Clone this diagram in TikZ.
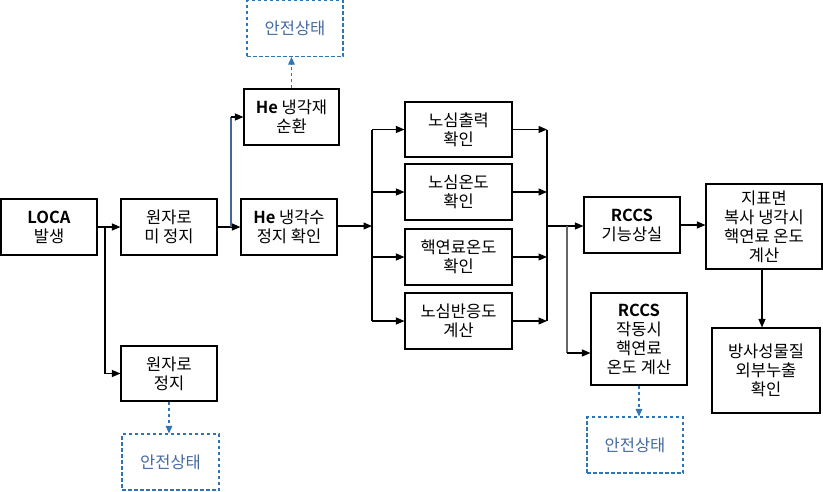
\documentclass[tikz,border=0pt]{standalone}
\usepackage{fontspec}
\setmainfont{Noto Sans CJK KR}[BoldFont={Noto Sans CJK KR Bold}]
\usetikzlibrary{arrows.meta,calc}
\definecolor{dashblue}{RGB}{46,117,182}
\definecolor{safetext}{RGB}{68,106,160}
\definecolor{branchblue}{RGB}{70,100,150}
\begin{document}
\begin{tikzpicture}[x=1pt,y=-1pt,
  box/.style={draw=black,line width=1.1pt,fill=white,align=center,inner sep=0pt,
    font=\fontsize{16.5}{19}\selectfont,text=black},
  safebox/.style={draw=dashblue,dashed,dash pattern=on 3.5pt off 2.5pt,line width=1.1pt,align=center,inner sep=0pt,
    font=\fontsize{16.5}{19}\selectfont,text=safetext,minimum width=96pt,minimum height=56pt},
  arr/.style={draw=black,line width=1.1pt,-{Triangle[length=8.5pt,width=7pt]}},
  ln/.style={draw=black,line width=1.1pt},
  darr/.style={draw=dashblue,line width=1.1pt,dash pattern=on 3.5pt off 2.5pt,-{Triangle[length=7.5pt,width=6.5pt]}}
]
\useasboundingbox (0,0) rectangle (823,491);

\node[box,minimum width=96pt,minimum height=56pt] (loca) at (49,227) {\textbf{LOCA}\\발생};
\node[box,minimum width=96pt,minimum height=56pt] (miz) at (169,227) {원자로\\미 정지};
\node[box,minimum width=96pt,minimum height=56pt] (hestop) at (289,227) {\textbf{He} 냉각수\\정지 확인};
\node[box,minimum width=95pt,minimum height=56pt] (hecirc) at (291.5,117) {\textbf{He} 냉각재\\순환};
\node[safebox] (safe1) at (295,28.5) {안전상태};
\node[box,minimum width=96pt,minimum height=55pt] (stop) at (169,373.5) {원자로\\정지};
\node[safebox,minimum width=97pt] (safe2) at (170.5,462) {안전상태};

\node[box,minimum width=107pt,minimum height=55pt] (b1) at (458.5,129.5) {노심출력\\확인};
\node[box,minimum width=107pt,minimum height=56pt] (b2) at (458.5,192) {노심온도\\확인};
\node[box,minimum width=107pt,minimum height=56pt] (b3) at (458.5,257) {핵연료온도\\확인};
\node[box,minimum width=107pt,minimum height=56pt] (b4) at (458.5,321) {노심반응도\\계산};

\node[box,minimum width=96pt,minimum height=56pt] (rccs1) at (632,225) {\textbf{RCCS}\\기능상실};
\node[box,minimum width=96pt,minimum height=92pt] (rccs2) at (639,339) {\textbf{RCCS}\\작동시\\핵연료\\온도 계산};
\node[safebox] (safe3) at (635,445) {안전상태};
\node[box,minimum width=116pt,minimum height=85pt] (surf) at (764,226.5) {지표면\\복사 냉각시\\핵연료 온도\\계산};
\node[box,minimum width=108pt,minimum height=85pt] (rad) at (766,370.5) {방사성물질\\외부누출\\확인};

% left part
\coordinate (j1) at (105,227);
\draw[arr] (loca.east) -- (miz.west);
\draw[arr] (j1) |- (stop.west);
\coordinate (j2) at (231,227);
\draw[arr] (miz.east) -- (hestop.west);
\draw[branchblue,line width=1.1pt] (j2) -- (j2 |- hecirc.west);
\draw[arr] (j2 |- hecirc.west) -- (hecirc.west);
\draw[darr] (hecirc.north) -- (hecirc.north |- safe1.south);
\draw[darr] (stop.south) -- (stop.south |- safe2.north);

% fan out
\coordinate (j3) at (372,226);
\draw[arr] (hestop.east |- j3) -- (j3);
\draw[ln] (j3 |- b1.west) -- (j3 |- b4.west);
\foreach \b in {b1,b2,b3,b4}{\draw[arr] (j3 |- \b.west) -- (\b.west);}

% fan in
\coordinate (j4) at (547,226);
\foreach \b in {b1,b2,b3,b4}{\draw[arr] (\b.east) -- (j4 |- \b.east);}
\draw[ln] (j4 |- b1.east) -- (j4 |- b4.east);
\draw[arr] (j4) -- (j4 -| rccs1.west);
\coordinate (j5) at (567,226);
\draw[draw=black!60,line width=1.1pt] (j5) -- (567,353);
\draw[arr] (567,353) -- ($(rccs2.west)+(0,14)$);
\draw[darr] (rccs2.south) -- (rccs2.south |- safe3.north);

% right part
\draw[arr] (rccs1.east) -- (rccs1.east -| surf.west);
\draw[arr] ([xshift=-2pt]surf.south) -- ([xshift=-2pt]surf.south |- rad.north);
\end{tikzpicture}
\end{document}
